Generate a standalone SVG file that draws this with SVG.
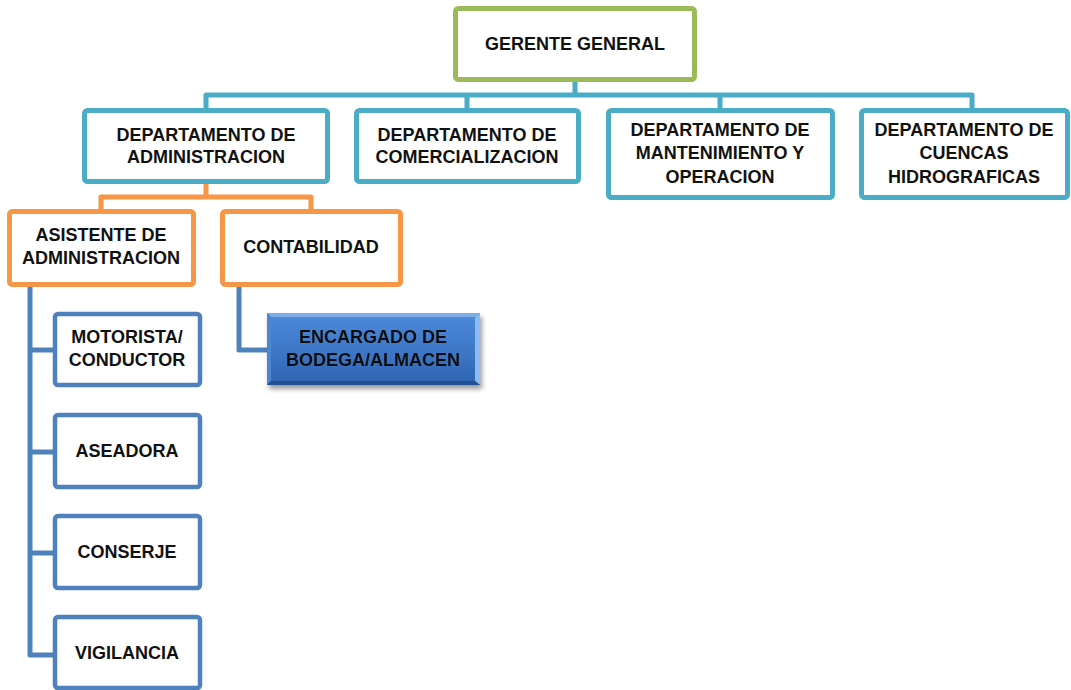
<svg xmlns="http://www.w3.org/2000/svg" width="1071" height="690" viewBox="0 0 1071 690">
  <defs>
    <style>
      .box { fill: #ffffff; stroke-width: 5; }
      .g { stroke: #9BBB59; }
      .c { stroke: #4BACC6; }
      .o { stroke: #F79646; }
      .b { stroke: #4F81BD; stroke-width: 4.5; }
      .lbl { font-family: "Liberation Sans", Arial, sans-serif; font-weight: bold; font-size: 18px; fill: #111111; text-anchor: middle; dominant-baseline: central; }
      .ln { fill: none; stroke-width: 5; stroke-linejoin: round; }
    </style>
    <linearGradient id="faceFill" x1="0" y1="0" x2="0" y2="1">
      <stop offset="0" stop-color="#4C88D8"/>
      <stop offset="0.55" stop-color="#3D77C6"/>
      <stop offset="1" stop-color="#2F66B4"/>
    </linearGradient>
    <filter id="shadow" x="-10%" y="-10%" width="130%" height="140%">
      <feGaussianBlur in="SourceAlpha" stdDeviation="2.5"/>
      <feOffset dx="2" dy="4" result="off"/>
      <feComponentTransfer><feFuncA type="linear" slope="0.4"/></feComponentTransfer>
      <feMerge><feMergeNode/><feMergeNode in="SourceGraphic"/></feMerge>
    </filter>
  </defs>

  <rect width="1071" height="690" fill="#ffffff"/>

  <!-- connectors -->
  <g id="connectors">
    <path class="ln" stroke="#4BACC6" d="M575 80 V95 M206 108 V95 H972 V108 M467 95 V108 M720 95 V108"/>
    <path class="ln" stroke="#F79646" d="M206 184 V197 M101 209 V197 H311 V209"/>
    <path class="ln" stroke="#4F81BD" d="M30 286 V655 H53 M30 350 H53 M30 452 H53 M30 553 H53"/>
    <path class="ln" stroke="#4F81BD" d="M239 286 V350 H267"/>
  </g>

  <g id="gerente-general">
    <rect class="box g" x="455.5" y="8.5" width="239" height="71" rx="3"/>
    <text class="lbl" x="575" y="44">GERENTE GENERAL</text>
  </g>

  <g id="dep-administracion">
    <rect class="box c" x="84.5" y="110.5" width="243" height="71" rx="3"/>
    <text class="lbl" x="206" y="135">DEPARTAMENTO DE</text>
    <text class="lbl" x="206" y="157">ADMINISTRACION</text>
  </g>

  <g id="dep-comercializacion">
    <rect class="box c" x="356.5" y="110.5" width="222" height="71" rx="3"/>
    <text class="lbl" x="467" y="135">DEPARTAMENTO DE</text>
    <text class="lbl" x="467" y="157">COMERCIALIZACION</text>
  </g>

  <g id="dep-mantenimiento">
    <rect class="box c" x="608.5" y="110.5" width="224" height="87" rx="3"/>
    <text class="lbl" x="720" y="130">DEPARTAMENTO DE</text>
    <text class="lbl" x="720" y="153">MANTENIMIENTO Y</text>
    <text class="lbl" x="720" y="177">OPERACION</text>
  </g>

  <g id="dep-cuencas">
    <rect class="box c" x="861.5" y="110.5" width="206" height="87" rx="3"/>
    <text class="lbl" x="964" y="130">DEPARTAMENTO DE</text>
    <text class="lbl" x="964" y="153">CUENCAS</text>
    <text class="lbl" x="964" y="177">HIDROGRAFICAS</text>
  </g>

  <g id="asistente-administracion">
    <rect class="box o" x="9.5" y="211.5" width="184" height="73" rx="3"/>
    <text class="lbl" x="101" y="235">ASISTENTE DE</text>
    <text class="lbl" x="101" y="258">ADMINISTRACION</text>
  </g>

  <g id="contabilidad">
    <rect class="box o" x="222.5" y="211.5" width="178" height="73" rx="3"/>
    <text class="lbl" x="311" y="247">CONTABILIDAD</text>
  </g>

  <!-- bevelled box: four edge facets around a gradient face -->
  <g id="encargado-bodega" filter="url(#shadow)">
    <rect x="267" y="313" width="213" height="72" fill="#3A72C0"/>
    <polygon points="267,313 480,313 475,317 271,317" fill="#7FAEE8"/>
    <polygon points="267,313 271,317 271,381 267,385" fill="#4F86D2"/>
    <polygon points="480,313 480,385 475,381 475,317" fill="#8DBBF0"/>
    <polygon points="267,385 271,381 475,381 480,385" fill="#24508F"/>
    <rect x="271" y="317" width="204" height="64" fill="url(#faceFill)"/>
    <text class="lbl" x="373" y="337">ENCARGADO DE</text>
    <text class="lbl" x="373" y="360">BODEGA/ALMACEN</text>
  </g>

  <g id="motorista">
    <rect class="box b" x="55" y="314" width="145" height="71" rx="3"/>
    <text class="lbl" x="127" y="337">MOTORISTA/</text>
    <text class="lbl" x="127" y="360">CONDUCTOR</text>
  </g>

  <g id="aseadora">
    <rect class="box b" x="55" y="415" width="145" height="72" rx="3"/>
    <text class="lbl" x="127" y="451">ASEADORA</text>
  </g>

  <g id="conserje">
    <rect class="box b" x="55" y="516" width="145" height="72" rx="3"/>
    <text class="lbl" x="127" y="552">CONSERJE</text>
  </g>

  <g id="vigilancia">
    <rect class="box b" x="55" y="617" width="145" height="71" rx="3"/>
    <text class="lbl" x="127" y="653">VIGILANCIA</text>
  </g>
</svg>
